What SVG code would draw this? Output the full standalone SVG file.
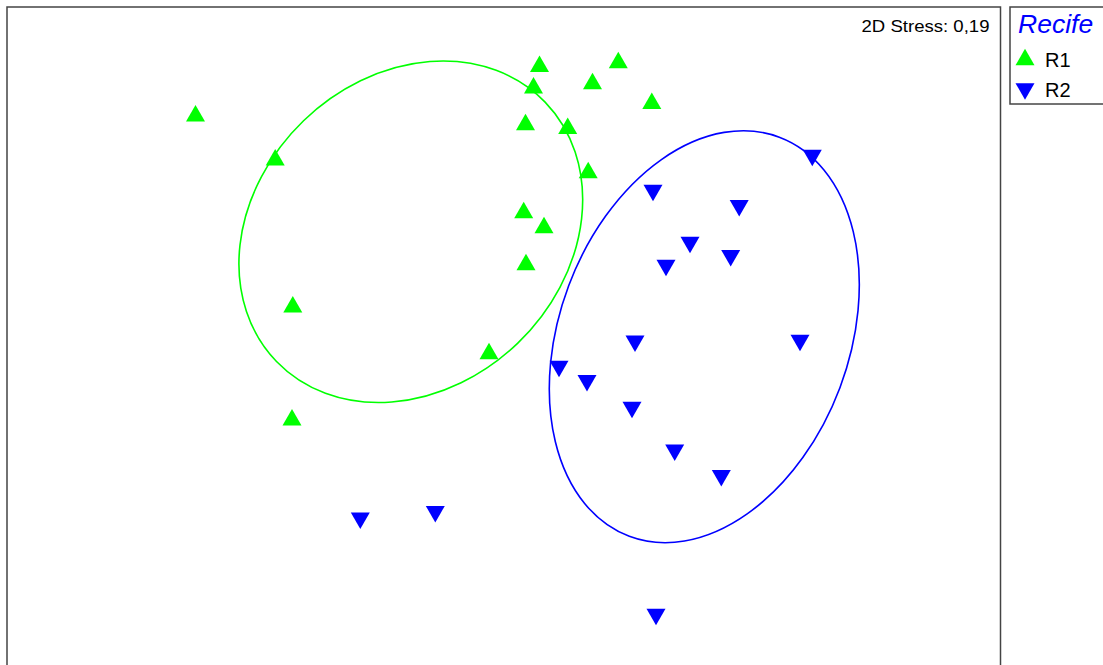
<svg xmlns="http://www.w3.org/2000/svg" xmlns:xlink="http://www.w3.org/1999/xlink" width="1103" height="665" viewBox="0 0 1103 665">
<style>
.frame{fill:none;stroke:#444;stroke-width:1.5}
.r1{fill:#00ff00}
.r2{fill:#0000ff}
.ell1{fill:none;stroke:#00ff00;stroke-width:1.6}
.ell2{fill:none;stroke:#0000ff;stroke-width:1.6}
.lbl{font-family:"Liberation Sans",Arial,sans-serif;fill:#000}
</style>
<defs>
<path id="up" d="M0,-8.25 L9.5,8.25 L-9.5,8.25 Z"/>
<path id="dn" d="M0,8.25 L9.5,-8.25 L-9.5,-8.25 Z"/>
</defs>
<rect width="1103" height="665" fill="#fff"/>
<rect class="frame" x="7" y="7" width="993.5" height="700"/>
<text class="lbl" x="989.5" y="32" font-size="16.5" text-anchor="end" textLength="128" lengthAdjust="spacingAndGlyphs">2D Stress: 0,19</text>
<g id="ellipses">
<ellipse class="ell1" cx="410.8" cy="231.8" rx="186.7" ry="154.4" transform="rotate(-44 410.8 231.8)"/>
<ellipse class="ell2" cx="704.3" cy="336.7" rx="144.9" ry="213.2" transform="rotate(20.6 704.3 336.7)"/>
</g>
<g id="R1-points" class="r1">
<use href="#up" x="195.5" y="113.3"/>
<use href="#up" x="275.2" y="157.2"/>
<use href="#up" x="539.5" y="63.7"/>
<use href="#up" x="618.3" y="60"/>
<use href="#up" x="592.5" y="81"/>
<use href="#up" x="533.5" y="85.3"/>
<use href="#up" x="651.8" y="100.7"/>
<use href="#up" x="525.5" y="122"/>
<use href="#up" x="567.7" y="125.7"/>
<use href="#up" x="588.2" y="170"/>
<use href="#up" x="523.7" y="210"/>
<use href="#up" x="544" y="225"/>
<use href="#up" x="526" y="262"/>
<use href="#up" x="292.8" y="304.3"/>
<use href="#up" x="489" y="351"/>
<use href="#up" x="292" y="417.3"/>
</g>
<g id="R2-points" class="r2">
<use href="#dn" x="812.3" y="158"/>
<use href="#dn" x="653" y="193"/>
<use href="#dn" x="739.2" y="208.3"/>
<use href="#dn" x="690" y="245"/>
<use href="#dn" x="730.7" y="258.3"/>
<use href="#dn" x="666" y="268"/>
<use href="#dn" x="635" y="343.7"/>
<use href="#dn" x="800" y="343"/>
<use href="#dn" x="559" y="369"/>
<use href="#dn" x="587" y="383.3"/>
<use href="#dn" x="632" y="410"/>
<use href="#dn" x="674.7" y="452.7"/>
<use href="#dn" x="721.3" y="478.3"/>
<use href="#dn" x="360.3" y="520.8"/>
<use href="#dn" x="435.3" y="514.2"/>
<use href="#dn" x="656" y="617"/>
</g>
<g id="legend">
<rect class="frame" x="1010" y="7" width="110" height="97"/>
<text x="1018" y="33" font-family="Liberation Sans, Arial, sans-serif" font-style="italic" font-size="26.5" fill="#0000ff">Recife</text>
<use href="#up" class="r1" x="1025" y="57"/>
<text class="lbl" x="1045" y="67" font-size="20">R1</text>
<use href="#dn" class="r2" x="1025" y="91.5"/>
<text class="lbl" x="1045" y="97" font-size="20">R2</text>
</g>
</svg>
